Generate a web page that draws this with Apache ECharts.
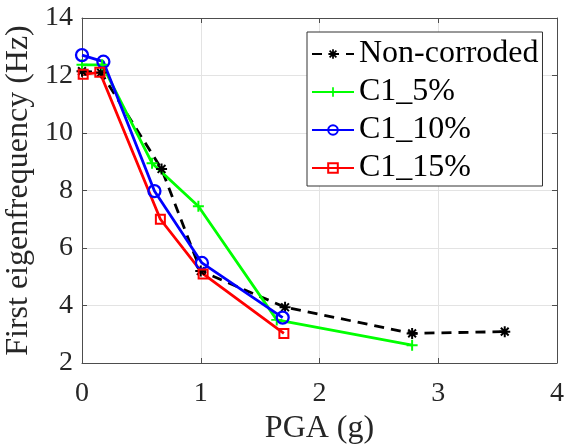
<!DOCTYPE html>
<html><head><meta charset="utf-8">
<script src="https://cdn.jsdelivr.net/npm/echarts@6/dist/echarts.min.js"></script>
<style>html,body{margin:0;padding:0;background:#fff}#c{width:567px;height:448px}</style>
</head><body><div id="c"></div>
<script>
// ---- data ----
const seriesNames = ['Non-corroded', 'C1_5%', 'C1_10%', 'C1_15%'];
const nonCorroded = [[0, 12.15], [0.16, 12.1], [0.67, 8.75], [1.0, 5.2], [1.71, 3.94], [2.78, 3.03], [3.56, 3.09]];
const c1_5 = [[0, 12.37], [0.17, 12.37], [0.59, 8.95], [0.98, 7.45], [1.64, 3.5], [2.78, 2.62]];
const c1_10 = [[0, 12.71], [0.18, 12.48], [0.61, 7.98], [1.01, 5.48], [1.69, 3.58]];
const c1_15 = [[0.01, 12.04], [0.15, 12.11], [0.66, 7.0], [1.02, 5.1], [1.7, 3.03]];
const xTicks = [0, 1, 2, 3, 4];
const yTicks = [2, 4, 6, 8, 10, 12, 14];

// ---- symbols ----
function asteriskPath() {
  const L = 5, w = 0.9;
  let d = '';
  for (let k = 0; k < 4; k++) {
    const a = k * Math.PI / 4, c = Math.cos(a), s = Math.sin(a);
    const pts = [[-L, -w], [L, -w], [L, w], [-L, w]].map(([x, y]) => [x * c - y * s, x * s + y * c]);
    d += 'M' + pts.map(p => p[0].toFixed(3) + ',' + p[1].toFixed(3)).join(' L') + ' Z ';
  }
  return 'path://' + d;
}
const plusPath = 'path://M-0.9,-5 L0.9,-5 L0.9,-0.9 L5,-0.9 L5,0.9 L0.9,0.9 L0.9,5 L-0.9,5 L-0.9,0.9 L-5,0.9 L-5,-0.9 L-0.9,-0.9 Z';

const font = 'Liberation Serif';
const axisCol = '#4d4d4d';
const txtCol = '#262626';

const chart = echarts.init(document.getElementById('c'), null, {renderer: 'canvas'});
const baseX = {type: 'value', min: xTicks[0], max: xTicks[xTicks.length - 1], interval: 1};
const baseY = {type: 'value', min: yTicks[0], max: yTicks[yTicks.length - 1], interval: 2};
chart.setOption({
  animation: false,
  backgroundColor: '#fff',
  textStyle: {fontFamily: font},
  grid: {left: 82, right: 10, top: 18, bottom: 85, containLabel: false, outerBoundsMode: 'none'},
  xAxis: [
    Object.assign({}, baseX, {
      position: 'bottom',
      name: 'PGA (g)', nameLocation: 'middle', nameGap: 50,
      nameTextStyle: {fontFamily: font, fontSize: 32, color: txtCol},
      axisLine: {show: true, lineStyle: {color: axisCol, width: 1}},
      axisTick: {show: true, inside: true, length: 5, lineStyle: {color: axisCol}},
      axisLabel: {margin: 17, fontFamily: font, fontSize: 28, color: txtCol},
      splitLine: {show: true, lineStyle: {color: '#e3e3e3', width: 1}}
    }),
    Object.assign({}, baseX, {
      position: 'top',
      axisLine: {show: true, onZero: false, lineStyle: {color: axisCol, width: 1}},
      axisTick: {show: true, inside: true, length: 5, lineStyle: {color: axisCol}},
      axisLabel: {show: false}, splitLine: {show: false}
    })
  ],
  yAxis: [
    Object.assign({}, baseY, {
      position: 'left',
      name: 'First eigenfrequency (Hz)', nameLocation: 'middle', nameGap: 37,
      nameTextStyle: {fontFamily: font, fontSize: 32, color: txtCol},
      axisLine: {show: true, onZero: false, lineStyle: {color: axisCol, width: 1}},
      axisTick: {show: true, inside: true, length: 5, lineStyle: {color: axisCol}},
      axisLabel: {margin: 9, fontFamily: font, fontSize: 28, color: txtCol},
      splitLine: {show: true, lineStyle: {color: '#e3e3e3', width: 1}}
    }),
    Object.assign({}, baseY, {
      position: 'right',
      axisLine: {show: true, onZero: false, lineStyle: {color: axisCol, width: 1}},
      axisTick: {show: true, inside: true, length: 5, lineStyle: {color: axisCol}},
      axisLabel: {show: false}, splitLine: {show: false}
    })
  ],
  legend: {
    left: 307, top: 32, orient: 'vertical',
    backgroundColor: '#fff', borderColor: '#333', borderWidth: 1,
    padding: [6, 4, 2, 4],
    itemWidth: 42, itemHeight: 12, itemGap: 6,
    textStyle: {fontFamily: font, fontSize: 32, color: '#000', lineHeight: 32},
    data: seriesNames
  },
  series: [
    {
      name: seriesNames[0], type: 'line', data: nonCorroded,
      symbol: asteriskPath(), symbolSize: 11,
      itemStyle: {color: '#000'},
      lineStyle: {color: '#000', width: 2.8, type: [10, 7]}
    },
    {
      name: seriesNames[1], type: 'line', data: c1_5,
      symbol: plusPath, symbolSize: 11,
      itemStyle: {color: '#00ff00'},
      lineStyle: {color: '#00ff00', width: 2.8}
    },
    {
      name: seriesNames[2], type: 'line', data: c1_10,
      symbol: 'circle', symbolSize: 12,
      itemStyle: {color: 'rgba(0,0,0,0)', borderColor: '#0000ff', borderWidth: 2.3},
      lineStyle: {color: '#0000ff', width: 2.8}
    },
    {
      name: seriesNames[3], type: 'line', data: c1_15,
      symbol: 'rect', symbolSize: 9,
      itemStyle: {color: 'rgba(0,0,0,0)', borderColor: '#ff0000', borderWidth: 2},
      lineStyle: {color: '#ff0000', width: 2.8}
    }
  ]
});
</script></body></html>
